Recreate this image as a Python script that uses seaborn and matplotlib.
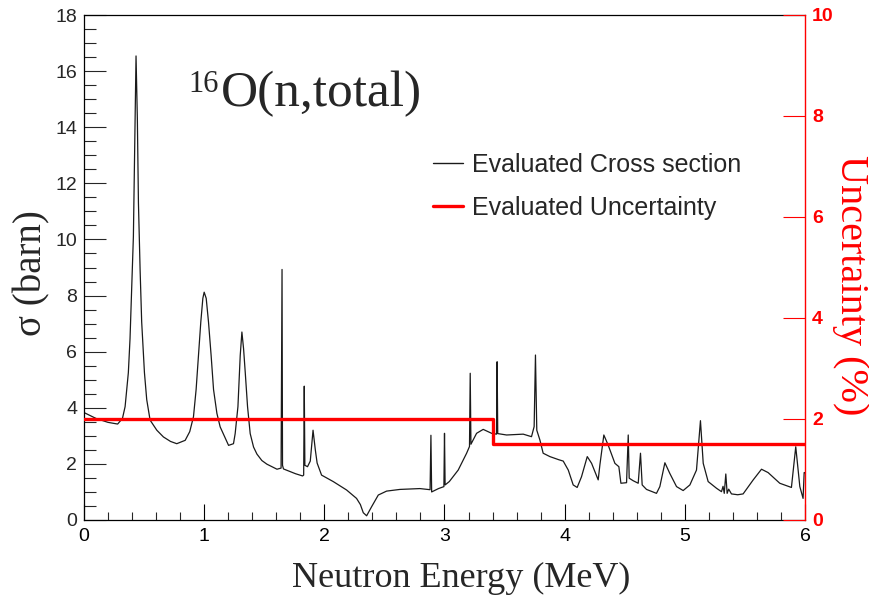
import matplotlib
matplotlib.use("Agg")
import matplotlib.pyplot as plt
from matplotlib.ticker import MultipleLocator
from matplotlib.lines import Line2D
import seaborn as sns
import pandas as pd

# ---------------- data ----------------
energy = [0.00, 0.10, 0.20, 0.25, 0.28, 0.32, 0.342, 0.369, 0.383, 0.397, 0.411, 0.419,
          0.428, 0.433, 0.444, 0.453, 0.467, 0.48, 0.503, 0.522, 0.55, 0.606, 0.661, 0.72,
          0.772, 0.842, 0.88, 0.911, 0.933, 0.953, 0.972, 0.989, 1.00, 1.017, 1.036, 1.058,
          1.078, 1.106, 1.133, 1.203, 1.244, 1.258, 1.281, 1.300, 1.314, 1.328, 1.342, 1.361,
          1.383, 1.411, 1.439, 1.48, 1.522, 1.606, 1.640, 1.648, 1.652, 1.66, 1.76, 1.819,
          1.828, 1.833, 1.838, 1.86, 1.883, 1.906, 1.925, 1.94, 1.977, 2.074, 2.185, 2.268,
          2.30, 2.324, 2.352, 2.393, 2.449, 2.518, 2.629, 2.795, 2.880, 2.887, 2.893, 2.95,
          2.995, 3.000, 3.005, 3.04, 3.114, 3.184, 3.208, 3.214, 3.220, 3.267, 3.322, 3.392,
          3.433, 3.438, 3.443, 3.517, 3.655, 3.724, 3.746, 3.757, 3.768, 3.794, 3.821, 3.877,
          3.95, 3.988, 4.03, 4.071, 4.104, 4.14, 4.188, 4.224, 4.279, 4.293, 4.326, 4.362,
          4.418, 4.451, 4.468, 4.515, 4.529, 4.537, 4.57, 4.612, 4.631, 4.645, 4.681, 4.764,
          4.792, 4.834, 4.875, 4.931, 4.986, 5.042, 5.097, 5.130, 5.153, 5.194, 5.264, 5.305,
          5.318, 5.328, 5.341, 5.352, 5.365, 5.388, 5.44, 5.485, 5.569, 5.638, 5.693, 5.79,
          5.887, 5.923, 5.957, 5.984, 5.993, 6.0]
sigma = [3.83, 3.62, 3.48, 3.44, 3.42, 3.62, 4.04, 5.25, 6.46, 8.27, 10.1, 12.5,
         15.2, 16.54, 14.3, 11.3, 8.9, 7.06, 5.25, 4.29, 3.56, 3.20, 2.96, 2.80,
         2.72, 2.84, 3.15, 3.68, 4.65, 5.86, 7.06, 7.9, 8.12, 7.9, 7.06, 5.86,
         4.65, 3.8, 3.32, 2.66, 2.72, 3.08, 4.04, 5.86, 6.7, 6.1, 5.25, 4.04,
         3.08, 2.6, 2.35, 2.12, 1.99, 1.81, 1.85, 8.93, 1.95, 1.82, 1.65, 1.57,
         1.60, 4.77, 1.95, 1.9, 2.1, 3.2, 2.5, 2.03, 1.6, 1.37, 1.07, 0.77,
         0.55, 0.26, 0.15, 0.47, 0.89, 1.03, 1.09, 1.12, 1.08, 3.02, 1.00, 1.12,
         1.19, 3.09, 1.25, 1.37, 1.78, 2.38, 2.62, 5.23, 2.70, 3.09, 3.23, 3.09,
         3.06, 5.64, 3.08, 3.03, 3.06, 2.97, 3.33, 5.88, 3.2, 2.85, 2.38, 2.26,
         2.15, 2.10, 1.78, 1.25, 1.16, 1.54, 2.26, 2.02, 1.43, 1.96, 3.03, 2.67,
         2.02, 1.90, 1.31, 1.33, 3.03, 1.49, 1.40, 1.31, 2.38, 1.25, 1.09, 0.95,
         1.19, 2.04, 1.66, 1.19, 1.05, 1.25, 1.78, 3.54, 2.02, 1.37, 1.13, 1.01,
         1.2, 0.95, 1.64, 0.95, 1.1, 0.93, 0.90, 0.93, 1.43, 1.81, 1.69, 1.31,
         1.16, 2.61, 1.19, 0.77, 1.69, 1.69]

unc_energy = [0.0, 3.4, 6.0]
unc_value = [2.0, 1.5, 1.5]

x_ticks = [0, 1, 2, 3, 4, 5, 6]
y_ticks = [0, 2, 4, 6, 8, 10, 12, 14, 16, 18]
y2_ticks = [0, 2, 4, 6, 8, 10]

title_sup = "16"
title_main = "O(n,total)"
xlabel = "Neutron Energy (MeV)"
ylabel = "σ (barn)"
y2label = "Uncertainty (%)"
leg_labels = ["Evaluated Cross section", "Evaluated Uncertainty"]

# ---------------- style ----------------
sns.set_style("ticks")
plt.rcParams["font.family"] = ["Liberation Sans", "DejaVu Sans"]

W, H = 870, 599
fig = plt.figure(figsize=(W / 100, H / 100), dpi=100)
ax = fig.add_axes([84 / W, 1 - 520 / H, (805 - 84) / W, (520 - 15) / H])
ax2 = ax.twinx()

df = pd.DataFrame({"E": energy, "sigma": sigma})
sns.lineplot(data=df, x="E", y="sigma", ax=ax, color="#1a1a1a", linewidth=0.9,
             estimator=None, sort=False)

du = pd.DataFrame({"E": unc_energy, "u": unc_value})
sns.lineplot(data=du, x="E", y="u", ax=ax2, color="#ff0000", linewidth=2.4,
             estimator=None, sort=False, drawstyle="steps-post")

ax.set_xlim(0, 6)
ax.set_ylim(0, 18)
ax2.set_ylim(0, 10)

ax.set_xticks(x_ticks)
ax.set_yticks(y_ticks)
ax.xaxis.set_minor_locator(MultipleLocator(0.2))
ax.yaxis.set_minor_locator(MultipleLocator(0.5))
ax2.set_yticks(y2_ticks)

ax.tick_params(axis="x", which="major", direction="in", length=11.5, width=0.8,
               labelsize=14, pad=6, colors="black", top=False)
ax.tick_params(axis="x", which="minor", direction="in", length=5.8, width=0.8, top=False)
ax.tick_params(axis="y", which="major", direction="in", length=15.8, width=0.8,
               labelsize=14, pad=5, right=False)
ax.tick_params(axis="y", which="minor", direction="in", length=8.6, width=0.8, right=False)
ax2.tick_params(axis="y", which="major", direction="in", length=15.8, width=0.8,
                colors="#ff0000", labelsize=14, pad=5)
for lab in ax2.get_yticklabels():
    lab.set_fontweight("bold")
    lab.set_color("#ff0000")

for sp in ["left", "bottom", "top"]:
    ax.spines[sp].set_color("black")
    ax.spines[sp].set_linewidth(0.9)
    ax2.spines[sp].set_visible(False)
ax.spines["right"].set_visible(False)
ax2.spines["right"].set_color("#ff0000")
ax2.spines["right"].set_linewidth(1.0)

serif = ["Liberation Serif", "DejaVu Serif"]
ax.set_xlabel(xlabel, fontsize=26, family=serif)
ax.xaxis.label.set_va("center")
ax.xaxis.set_label_coords((461 - 84) / 721, (520 - 578) / 505)

ax.set_ylabel(ylabel, fontsize=28, family=serif)
ax.yaxis.label.set_va("center")
ax.yaxis.set_label_coords((32 - 84) / 721, (520 - 273) / 505)

ax2.set_ylabel(y2label, fontsize=29, family=serif, color="#ff0000", rotation=270)
ax2.yaxis.label.set_va("center")
ax2.yaxis.label.set_ha("center")
ax2.yaxis.set_label_coords((851 - 84) / 721, (520 - 285) / 505)

# annotation text
fig.text(188 / W, 1 - 92 / H, title_sup, fontsize=22, family=serif, va="baseline")
fig.text(221 / W, 1 - 106 / H, title_main, fontsize=37, family=serif, va="baseline")

# legend
handles = [Line2D([], [], color="#1a1a1a", lw=1.0),
           Line2D([], [], color="#ff0000", lw=2.4)]
leg = fig.legend(handles, leg_labels, loc="upper left",
                 bbox_to_anchor=(433 / W, 1 - 153 / H), frameon=False,
                 fontsize=18, handlelength=1.2, handletextpad=0.36,
                 labelspacing=0.75, borderpad=0, borderaxespad=0)

ax.set_facecolor("white")
fig.patch.set_facecolor("white")
fig.savefig("out.png", dpi=100)
